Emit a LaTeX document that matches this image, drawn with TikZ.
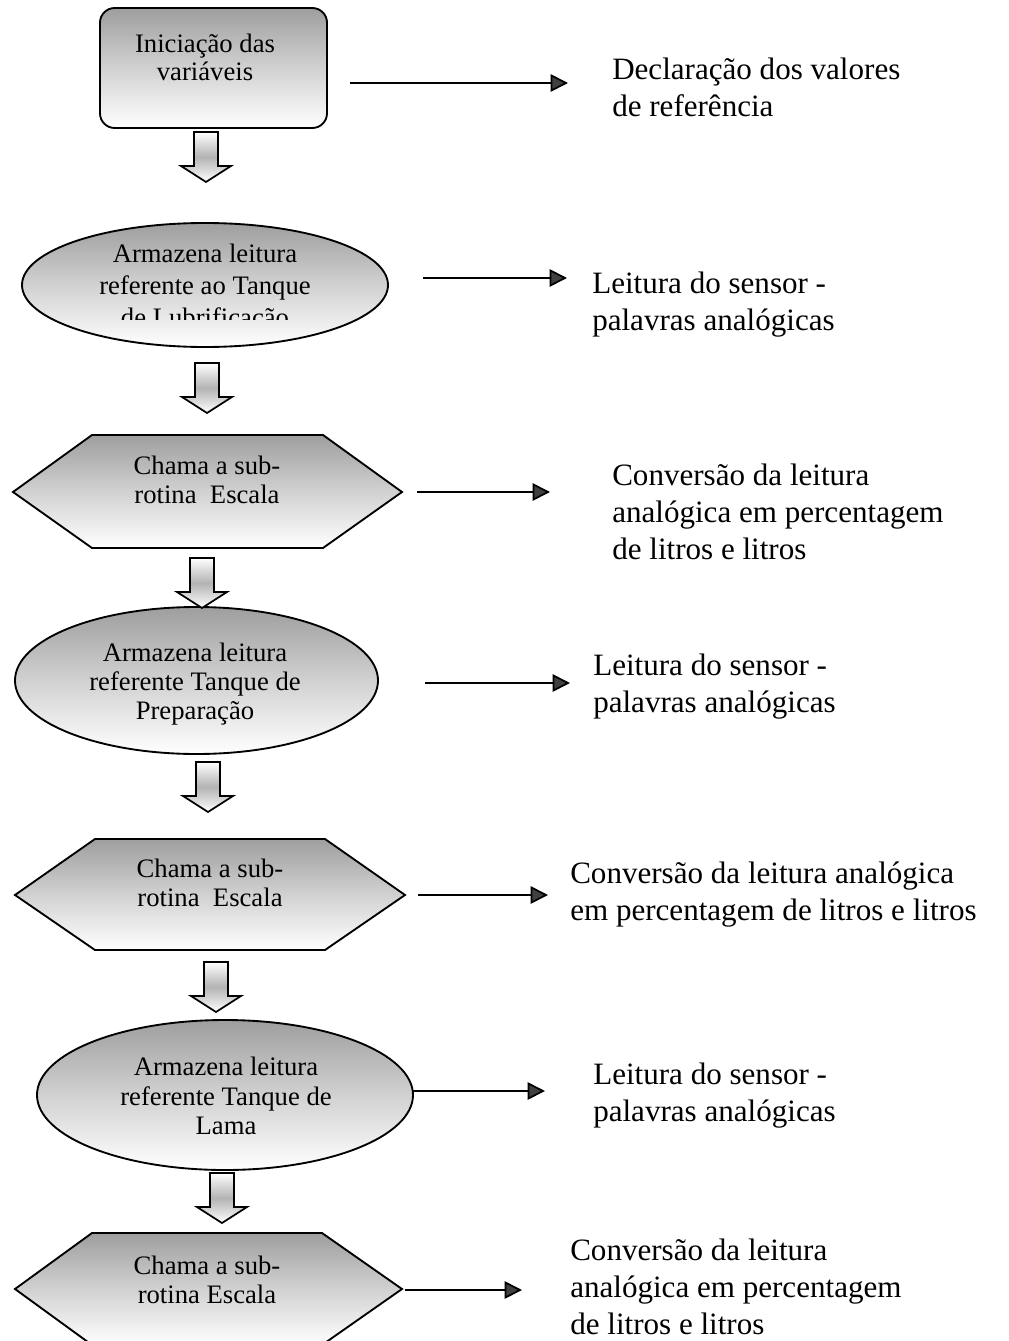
\documentclass[tikz,border=0pt]{standalone}
\usepackage{fontspec}
\setmainfont{Liberation Serif}
\usetikzlibrary{arrows.meta,shapes.geometric}
\def\pxu{0.75pt}
\tikzset{
 shapefill/.style={draw=black, line width=1.4pt, top color=black!38, bottom color=white, middle color=black!18},
 boxshape/.style={shapefill, rounded corners=11pt, inner sep=0pt},
 ellshape/.style={shapefill, ellipse, inner sep=0pt},
 intext/.style={font=\fontsize{20}{21.5}\selectfont, align=center, inner sep=0pt},
 rtext/.style={font=\fontsize{23.3}{27.75}\selectfont, align=left, anchor=west, inner sep=0pt},
 sidearrow/.style={line width=1.3pt, -{Triangle[length=13pt,width=13pt,fill=black!75]}},
 blockarrow/.style={draw=black, line width=1.3pt, top color=white, bottom color=white, middle color=black!30},
 barrow/.pic={\path[blockarrow] (-12,0) -- (-12,34) -- (-25,34) -- (0,50) -- (25,34) -- (12,34) -- (12,0) -- cycle;}
}
\begin{document}
\begin{tikzpicture}[x=0.75pt,y=-0.75pt]
\useasboundingbox[fill=white] (0,0) rectangle (1008,1341);

% shapes
\node[boxshape, minimum width=227*\pxu, minimum height=120*\pxu] (init) at (213.5,68) {};
\node[intext] (initt) at (205,57.5) {Iniciação das\\variáveis};

\node[ellshape, minimum width=366*\pxu, minimum height=124*\pxu] (e1) at (205,285) {};
\begin{scope}
\clip (0,0) rectangle (1008,319);
\node[intext, font=\fontsize{20}{24}\selectfont] (e1t) at (205,288) {Armazena leitura\\referente ao Tanque\\de Lubrificação};
\end{scope}

\path[shapefill] (13,492) -- (92,435) -- (323,435) -- (402,492) -- (323,548) -- (92,548) -- cycle;
\node[intext] (h1) at (207,480) {Chama a sub-\\rotina\ \ Escala};

\node[ellshape, minimum width=363*\pxu, minimum height=147*\pxu] (e2) at (196.5,680.5) {};
\node[intext, font=\fontsize{20}{22}\selectfont] (e2t) at (195,684) {Armazena leitura\\referente Tanque de\\Preparação};

\path[shapefill] (15,895) -- (95,839) -- (325,839) -- (405,895) -- (325,950) -- (95,950) -- cycle;
\node[intext] (h2) at (210,883) {Chama a sub-\\rotina\ \ Escala};

\node[ellshape, minimum width=376*\pxu, minimum height=150*\pxu] (e3) at (225,1095) {};
\node[intext, font=\fontsize{20}{22}\selectfont] (e3t) at (226,1096) {Armazena leitura\\referente Tanque de\\Lama};

\path[shapefill] (15,1289) -- (92,1233) -- (322,1233) -- (402,1289) -- (322,1345) -- (92,1345) -- cycle;
\node[intext] (h3) at (207,1280) {Chama a sub-\\rotina Escala};

% block arrows
\pic at (206,132) {barrow};
\pic at (207,363) {barrow};
\pic at (202,558) {barrow};
\pic at (208,762) {barrow};
\pic at (216,962) {barrow};
\pic at (222,1173) {barrow};

% right texts
\node[rtext] (d1) at (612,87.5) {Declaração dos valores\\de referência};
\node[rtext] (d2) at (592,305) {Leitura do sensor -\\palavras analógicas};
\node[rtext] (d3) at (612,512) {Conversão da leitura\\analógica em percentagem\\de litros e litros};
\node[rtext] (d4) at (593,686.5) {Leitura do sensor -\\palavras analógicas};
\node[rtext] (d5) at (570,894.5) {Conversão da leitura analógica\\em percentagem de litros e litros};
\node[rtext] (d6) at (593,1096) {Leitura do sensor -\\palavras analógicas};
\node[rtext] (d7) at (570,1287) {Conversão da leitura\\analógica em percentagem\\de litros e litros};

% side arrows
\coordinate (s1a) at (350,83);   \coordinate (s1b) at (568,83);
\coordinate (s2a) at (423,278);  \coordinate (s2b) at (567,278);
\coordinate (s3a) at (417,492);  \coordinate (s3b) at (550,492);
\coordinate (s4a) at (425,683);  \coordinate (s4b) at (570,683);
\coordinate (s5a) at (418,895);  \coordinate (s5b) at (548,895);
\coordinate (s6a) at (413,1091); \coordinate (s6b) at (545,1091);
\coordinate (s7a) at (405,1290); \coordinate (s7b) at (522,1290);
\foreach \i in {1,...,7} {\draw[sidearrow] (s\i a) -- (s\i b);}
\end{tikzpicture}
\end{document}
